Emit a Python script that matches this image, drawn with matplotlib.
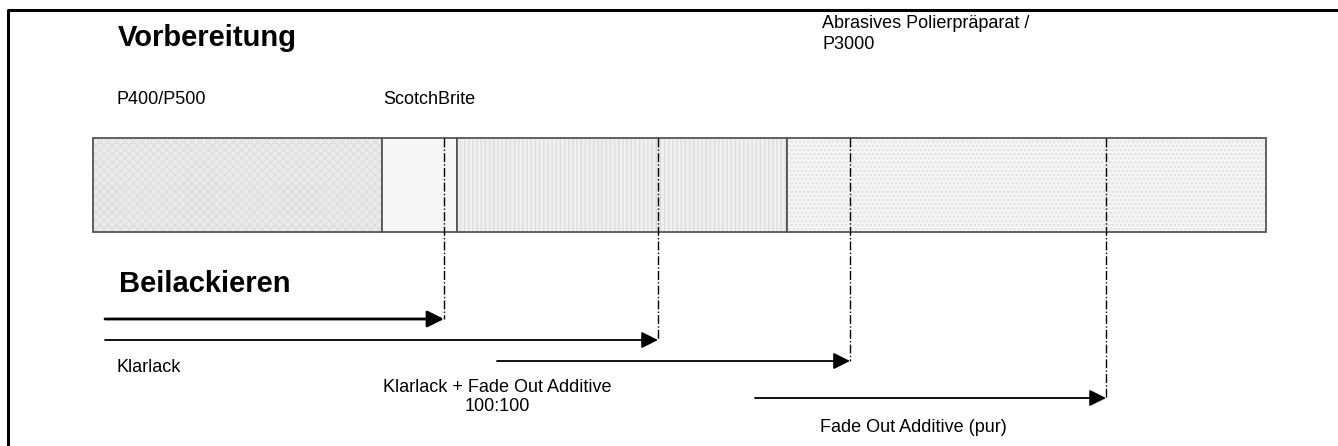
import matplotlib
matplotlib.use('Agg')
import matplotlib.pyplot as plt

plt.rcParams['font.family'] = ['Liberation Sans', 'DejaVu Sans']

# stages of the preparation bar (x positions in px of the source drawing)
stage_edges = [93, 382, 457, 787, 1266]
stage_fill = ['#ebebeb', '#f6f6f6', '#f0f0f0', '#f5f5f5']
stage_hatch = ['xxxx', None, '||||', '....']
stage_labels = ['P400/P500', 'ScotchBrite', 'Abrasives Polierpräparat /\nP3000']
stage_label_x = [117, 383, 822]
stage_label_y = [100, 100, 34]

# spray passes (start, end, row y, label)
pass_start = [105, 105, 497, 755]
pass_end = [444, 658, 850, 1106]
pass_y = [319, 340, 361, 398]
pass_lw = [2.0, 1.3, 1.3, 1.3]
pass_labels = ['', 'Klarlack', 'Klarlack + Fade Out Additive\n100:100', 'Fade Out Additive (pur)']
pass_label_xy = [(0, 0), (117, 367), (497, 397), (913, 427)]

bar_top, bar_bottom = 138, 232

fig = plt.figure(figsize=(13.38, 4.46), dpi=100)
ax = fig.add_axes([0, 0, 1, 1])
ax.set_xlim(0, 1338)
ax.set_ylim(446, 0)
ax.axis('off')

# frame (left + top only)
ax.plot([8, 8, 1338], [446, 10, 10], color='black', lw=2.2, solid_capstyle='butt')

# headings
ax.text(118, 38, 'Vorbereitung', fontsize=21, fontweight='bold', va='center', ha='left')
ax.text(119, 284, 'Beilackieren', fontsize=21, fontweight='bold', va='center', ha='left')

# bar segments
lefts = stage_edges[:-1]
widths = [b - a for a, b in zip(stage_edges[:-1], stage_edges[1:])]
for left, w, fc, h in zip(lefts, widths, stage_fill, stage_hatch):
    ax.barh((bar_top + bar_bottom) / 2, w, height=bar_bottom - bar_top, left=left,
            color=fc, edgecolor='#dedede' if h else fc, hatch=h, lw=0)
    ax.barh((bar_top + bar_bottom) / 2, w, height=bar_bottom - bar_top, left=left,
            facecolor='none', edgecolor='#555555', lw=1.3)

for lbl, x, y in zip(stage_labels, stage_label_x, stage_label_y):
    ax.text(x, y, lbl, fontsize=13, va='center', ha='left', linespacing=1.25)

# dash-dot markers and arrows
for x0, x1, y, lw in zip(pass_start, pass_end, pass_y, pass_lw):
    ax.plot([x1, x1], [bar_top, y], color='black', lw=1.0, ls='-.')
    ax.annotate('', xy=(x1, y), xytext=(x0, y),
                arrowprops=dict(arrowstyle='-|>,head_length=1.0,head_width=0.5',
                                color='black', lw=lw, shrinkA=0, shrinkB=0))

for lbl, (x, y) in zip(pass_labels, pass_label_xy):
    if not lbl:
        continue
    ha = 'left' if x == 117 else 'center'
    ax.text(x, y, lbl, fontsize=13, va='center', ha=ha, multialignment='center',
            linespacing=1.2)

fig.savefig('out.png', dpi=100)
plt.close()
